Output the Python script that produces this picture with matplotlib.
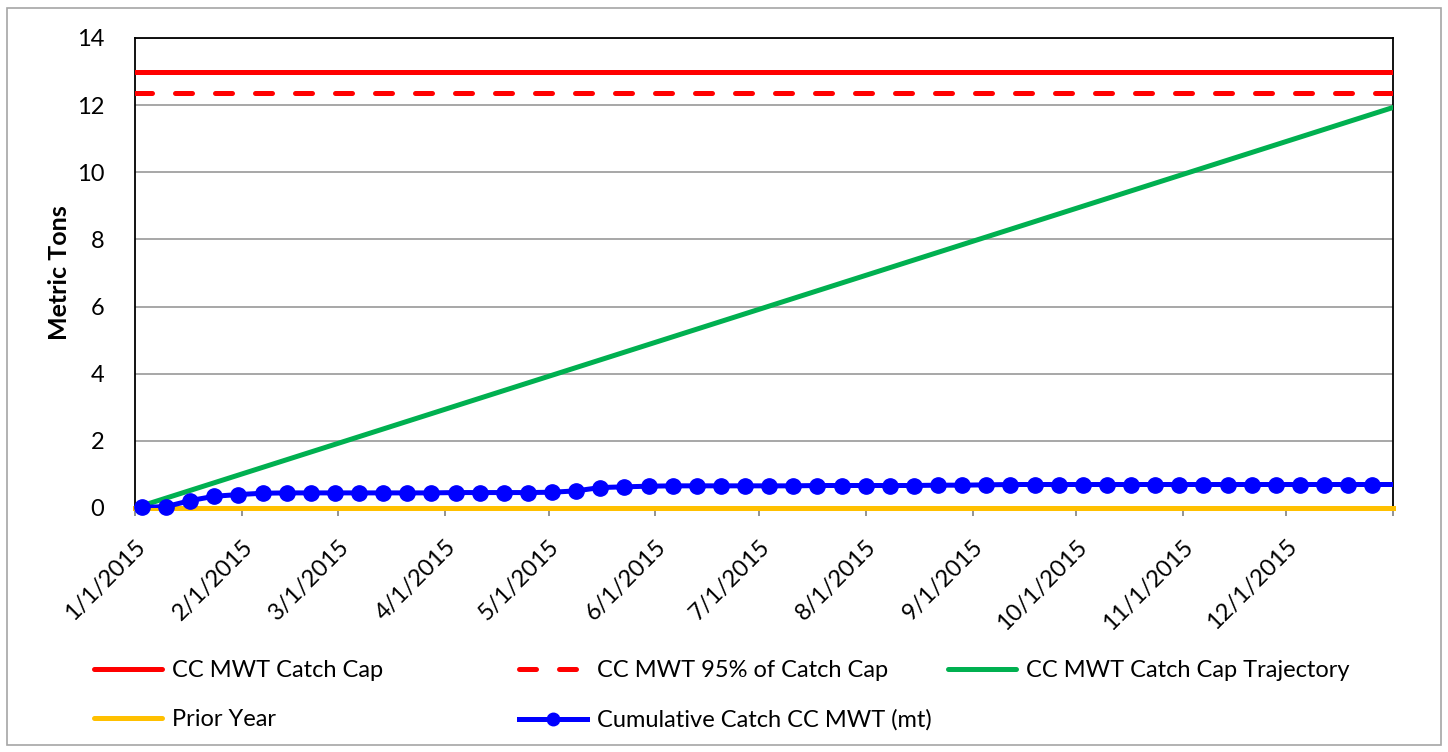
import matplotlib
matplotlib.use("Agg")
import matplotlib.pyplot as plt
import numpy as np
from matplotlib.patches import Rectangle
from matplotlib.lines import Line2D

# ---- data ----
cap_value = 13.0
cap95_value = 12.35
traj_dates = np.array(["2015-01-01", "2016-01-01"], dtype="datetime64[D]")
traj_values = [0.0, 11.93]
prior_year_dates = np.array(["2015-01-01", "2016-01-01"], dtype="datetime64[D]")
prior_year_values = [0.0, 0.0]

catch_dates = np.arange(np.datetime64("2015-01-03"), np.datetime64("2016-01-03"), 7)
catch_values = [0.02, 0.04, 0.22, 0.35, 0.40, 0.44, 0.45, 0.45, 0.45, 0.45,
                0.45, 0.45, 0.45, 0.46, 0.46, 0.46, 0.46, 0.47, 0.51, 0.61,
                0.63, 0.65, 0.66, 0.66, 0.66, 0.66, 0.66, 0.66, 0.67, 0.67,
                0.67, 0.67, 0.67, 0.68, 0.68, 0.69, 0.70, 0.70, 0.70, 0.70,
                0.70, 0.70, 0.70, 0.70, 0.70, 0.70, 0.70, 0.70, 0.70, 0.70,
                0.70, 0.70, 0.70]

tick_dates = np.array([f"2015-{m:02d}-01" for m in range(1, 13)] + ["2016-01-01"],
                      dtype="datetime64[D]")
tick_labels = [f"{m}/1/2015" for m in range(1, 13)] + [""]

legend_labels = ["CC MWT Catch Cap", "CC MWT 95% of Catch Cap",
                 "CC MWT Catch Cap Trajectory", "Prior Year",
                 "Cumulative Catch CC MWT (mt)"]

# ---- style ----
plt.rcParams["font.family"] = ["Lato", "DejaVu Sans"]
RED = "#FF0000"
GREEN = "#00B050"
YELLOW = "#FFC000"
BLUE = "#0000FF"
LW = 3.6
DASH = (3.4, 4.6)

fig = plt.figure(figsize=(14.48, 7.52), dpi=100)
fig.patches.append(Rectangle((7 / 1448, 1 - 745 / 752), 1434 / 1448, 737 / 752,
                             transform=fig.transFigure, fill=False,
                             edgecolor="#A6A6A6", lw=1.2))
ax = fig.add_axes([135 / 1448, 1 - 508 / 752, 1258 / 1448, 470 / 752])

xmin, xmax = np.datetime64("2015-01-01"), np.datetime64("2016-01-01")
ax.hlines(cap_value, xmin, xmax, color=RED, lw=LW, zorder=3, capstyle="round")
ax.plot([xmin, xmax], [cap95_value, cap95_value], color=RED, lw=LW,
        dashes=DASH, dash_capstyle="round", zorder=3)
ax.plot(traj_dates, traj_values, color=GREEN, lw=LW, zorder=3)
ax.plot(prior_year_dates, prior_year_values, color=YELLOW, lw=LW, zorder=3,
        clip_on=False)
ax.plot(catch_dates, catch_values, color=BLUE, lw=LW, zorder=4)
ax.plot(catch_dates[:-1], catch_values[:-1], color=BLUE, lw=0, marker="o",
        markersize=11, zorder=5, clip_on=False)

ax.set_xlim(xmin, xmax)
ax.set_ylim(0, 14)
ax.set_yticks(np.arange(0, 15, 2))
ax.tick_params(axis="y", length=0, pad=22, labelsize=17)
ax.set_xticks(tick_dates)
ax.set_xticklabels(tick_labels, rotation=45, ha="right", rotation_mode="anchor",
                   fontsize=17)
ax.tick_params(axis="x", length=6, width=1.2, color="#808080", pad=14)
ax.grid(axis="y", color="#A0A0A0", lw=1.3, zorder=0)
ax.set_axisbelow(True)
for s in ["left", "top", "right"]:
    ax.spines[s].set_color("black")
    ax.spines[s].set_linewidth(1.3)
ax.spines["bottom"].set_color("#808080")
ax.set_ylabel("Metric Tons", fontsize=18, fontweight="bold", labelpad=4)

# ---- legend (three columns placed as in the reference) ----
h_cap = Line2D([], [], color=RED, lw=LW, solid_capstyle="round")
h_95 = Line2D([], [], color=RED, lw=LW, dashes=DASH, dash_capstyle="round")
h_traj = Line2D([], [], color=GREEN, lw=LW, solid_capstyle="round")
h_prior = Line2D([], [], color=YELLOW, lw=LW, solid_capstyle="round")
h_cum = Line2D([], [], color=BLUE, lw=LW, marker="o", markersize=9)
cols = [([h_cap, h_prior], [legend_labels[0], legend_labels[3]], 94),
        ([h_95, h_cum], [legend_labels[1], legend_labels[4]], 519),
        ([h_traj], [legend_labels[2]], 948)]
for handles, labels, x0 in cols:
    fig.legend(handles, labels, loc="upper left",
               bbox_to_anchor=(x0 / 1448, 1 - 660 / 752),
               frameon=False, fontsize=17, handlelength=2.9,
               handletextpad=0.4, labelspacing=1.2, borderpad=0,
               borderaxespad=0)

fig.savefig("out.png", dpi=100)
